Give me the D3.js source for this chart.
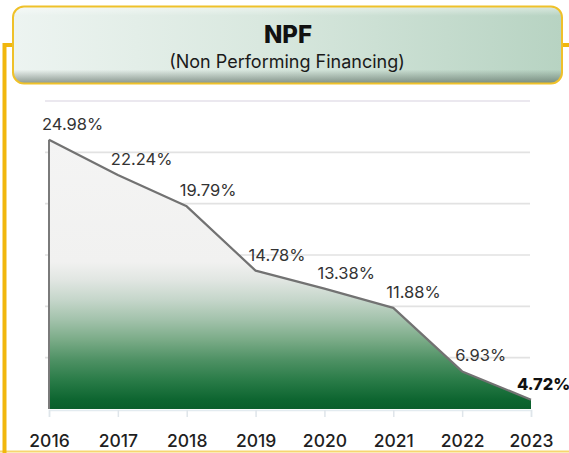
<!DOCTYPE html>
<html>
<head>
<meta charset="utf-8">
<script src="https://cdn.jsdelivr.net/npm/d3@7"></script>
<style>
  html, body { margin: 0; padding: 0; background: #ffffff; }
  svg { display: block; font-family: Inter, "Open Sans", sans-serif; }
</style>
</head>
<body>
<svg id="chart" width="569" height="453"></svg>
<script>
// ---- data ----
const years = ["2016", "2017", "2018", "2019", "2020", "2021", "2022", "2023"];
const npfValues = [24.98, 22.24, 19.79, 14.78, 13.38, 11.88, 6.93, 4.72];
const valueLabels = ["24.98%", "22.24%", "19.79%", "14.78%", "13.38%", "11.88%", "6.93%", "4.72%"];
const gridTicks = [4, 8, 12, 16, 20, 24, 28];
const titleMain = "NPF";
const titleSub = "(Non Performing Financing)";

const svg = d3.select("#chart");
const W = 569, H = 453;
const defs = svg.append("defs");

// ---- frame ----
const gold = "#f1b70d";
svg.append("line").attr("x1", 0).attr("x2", W).attr("y1", 451.5).attr("y2", 451.5)
  .attr("stroke", "#f6d670").attr("stroke-width", 2);
svg.append("path")
  .attr("d", "M4.5,453 L4.5,45 L20,45")
  .attr("fill", "none").attr("stroke", gold).attr("stroke-width", 4);
svg.append("line").attr("x1", 555).attr("x2", W).attr("y1", 45).attr("y2", 45)
  .attr("stroke", gold).attr("stroke-width", 4);

// ---- scales ----
const x = d3.scalePoint().domain(years).range([49, 531]);
const y = d3.scaleLinear().domain([4, 28]).range([409, 101]);

// ---- gridlines ----
svg.append("g").selectAll("line").data(gridTicks.filter(d => d > 4)).join("line")
  .attr("x1", 45).attr("x2", 530)
  .attr("y1", d => y(d)).attr("y2", d => y(d))
  .attr("stroke", (d) => d === 28 ? "#e4e0ea" : "#e2e2e2")
  .attr("stroke-width", 1.6);

// ---- area gradient ----
const ag = defs.append("linearGradient").attr("id", "areaGrad")
  .attr("gradientUnits", "userSpaceOnUse")
  .attr("x1", 0).attr("x2", 0).attr("y1", y(28)).attr("y2", y(4));
[
  [141, "#f4f4f4"], [262, "#f1f1f0"], [280, "#e1e6e2"], [300, "#c5d6ca"],
  [320, "#a2c2ab"], [340, "#7aab87"], [360, "#4e9164"], [380, "#2a7c48"],
  [400, "#0d6530"], [409, "#0a5e2b"]
].forEach(([py, c]) => {
  ag.append("stop").attr("offset", (py - y(28)) / (y(4) - y(28))).attr("stop-color", c);
});

const pts = years.map((yr, i) => ({ yr, v: npfValues[i], label: valueLabels[i], i }));

const area = d3.area().x(d => x(d.yr)).y0(y(4)).y1(d => y(d.v));
svg.append("path").datum(pts).attr("d", area).attr("fill", "url(#areaGrad)");

// baseline + ticks
const xAxis = d3.axisBottom(x).tickSize(7).tickPadding(14);
const gx = svg.append("g").attr("transform", `translate(0,${y(4) + 1})`).call(xAxis);
gx.select(".domain").attr("stroke", "#e3ebf0").attr("stroke-width", 1.5);
gx.selectAll(".tick line").attr("stroke", "#dfe5ea").attr("stroke-width", 1.5);
gx.selectAll(".tick text")
  .attr("font-family", "Inter, sans-serif")
  .attr("font-size", 17.5).attr("font-weight", 500).attr("fill", "#1f1f1f")
  .attr("dy", "0.9em");

// left edge and line
svg.append("line").attr("x1", x(years[0])).attr("x2", x(years[0]))
  .attr("y1", y(npfValues[0])).attr("y2", y(4))
  .attr("stroke", "#7a7a7a").attr("stroke-width", 2);
const line = d3.line().x(d => x(d.yr)).y(d => y(d.v));
svg.append("path").datum(pts).attr("d", line)
  .attr("fill", "none").attr("stroke", "#727272").attr("stroke-width", 2.2)
  .attr("stroke-linejoin", "round");

// value labels
const last = pts.length - 1;
svg.append("g").selectAll("text").data(pts).join("text")
  .attr("x", d => d.i === last ? x(d.yr) - 14 : x(d.yr) - 7)
  .attr("y", d => y(d.v) - 10)
  .attr("font-size", 16.5)
  .attr("font-weight", d => d.i === last ? 800 : 400)
  .attr("fill", d => d.i === last ? "#111" : "#333")
  .text(d => d.label);

// ---- title box ----
const tg = defs.append("linearGradient").attr("id", "titleGrad")
  .attr("x1", 0).attr("x2", 1).attr("y1", 0).attr("y2", 0);
tg.append("stop").attr("offset", 0).attr("stop-color", "#edf4f1");
tg.append("stop").attr("offset", 0.45).attr("stop-color", "#d9e8df");
tg.append("stop").attr("offset", 1).attr("stop-color", "#b7d3c2");
const sg = defs.append("linearGradient").attr("id", "shadeGrad")
  .attr("x1", 0).attr("x2", 0).attr("y1", 0).attr("y2", 1);
sg.append("stop").attr("offset", 0).attr("stop-color", "#ffffff").attr("stop-opacity", 0.5);
sg.append("stop").attr("offset", 0.12).attr("stop-color", "#ffffff").attr("stop-opacity", 0);
sg.append("stop").attr("offset", 0.82).attr("stop-color", "#4a5a50").attr("stop-opacity", 0);
sg.append("stop").attr("offset", 1).attr("stop-color", "#4a5a50").attr("stop-opacity", 0.6);

const box = { x: 13, y: 6.5, w: 549, h: 77, r: 11 };
svg.append("rect").attr("x", box.x).attr("y", box.y).attr("width", box.w).attr("height", box.h)
  .attr("rx", box.r).attr("fill", "url(#titleGrad)");
svg.append("rect").attr("x", box.x).attr("y", box.y).attr("width", box.w).attr("height", box.h)
  .attr("rx", box.r).attr("fill", "url(#shadeGrad)")
  .attr("stroke", "#efc12a").attr("stroke-width", 2);

svg.append("text").attr("x", 288).attr("y", 43).attr("text-anchor", "middle")
  .attr("font-size", 24).attr("font-weight", 800).attr("fill", "#111")
  .text(titleMain);
svg.append("text").attr("x", 287).attr("y", 68).attr("text-anchor", "middle")
  .attr("font-size", 18).attr("font-weight", 400).attr("fill", "#1a1a1a")
  .text(titleSub);
</script>
</body>
</html>
